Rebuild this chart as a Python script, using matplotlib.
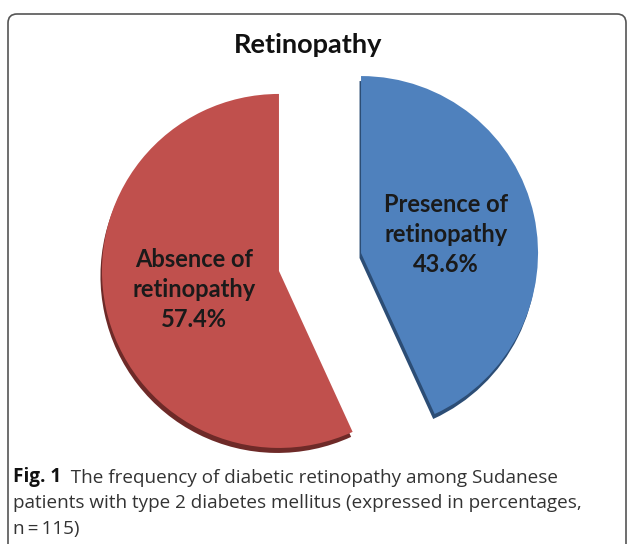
import matplotlib.pyplot as plt
from matplotlib.patches import FancyBboxPatch

# data
labels = ["Presence of\nretinopathy\n43.6%", "Absence of\nretinopathy\n57.4%"]
values = [43.6, 57.4]
colors = ["#4f81bd", "#c0504d"]
side_colors = ["#2c4d75", "#6e2a28"]
title = "Retinopathy"
caption_bold = "Fig. 1"
caption_lines = ["The frequency of diabetic retinopathy among Sudanese",
                 "patients with type 2 diabetes mellitus (expressed in percentages,",
                 "n\u2009=\u2009115)"]

W, H = 627, 544
fig = plt.figure(figsize=(W / 100, H / 100), dpi=100)
ax = fig.add_axes([0, 0, 1, 1])

# rounded frame
frame = FancyBboxPatch((8, -20), 618, H - 14 + 20,
                       boxstyle="round,pad=0,rounding_size=9",
                       fc="none", ec="#555555", lw=1.2)
ax.add_patch(frame)

cx, cy, r = 320, H - 262, 177
expl = (42, 42)  # explode is in data units here

# darker copy slightly lower gives the 3d side
ax.pie(values, colors=side_colors, startangle=90, counterclock=False,
       explode=expl, center=(cx - 1.5, cy - 5), radius=r, frame=True,
       wedgeprops=dict(linewidth=0))
ax.pie(values, colors=colors, labels=labels, labeldistance=0.49,
       startangle=90, counterclock=False, explode=expl,
       center=(cx, cy), radius=r, frame=True,
       wedgeprops=dict(linewidth=0),
       textprops=dict(ha="center", va="center", fontsize=17,
                      fontweight="bold", family="Lato", color="#1a1a1a",
                      linespacing=1.35))
ax.set_xlim(0, W)
ax.set_ylim(0, H)
ax.set_aspect("equal")
ax.axis("off")

ax.text(308, H - 45, title, ha="center", va="center", fontsize=19.5,
        fontweight="bold", family="Lato", color="#111111")

# caption
fs = 13.6
t = ax.text(13, H - 482, caption_bold, ha="left", va="baseline",
            fontsize=fs, fontweight="bold", family="Open Sans", color="#111111")
ax.annotate("  " + caption_lines[0], xy=(1, 0), xycoords=t, ha="left",
            va="bottom", fontsize=fs, family="Open Sans", color="#333333")
for i, line in enumerate(caption_lines[1:]):
    ax.text(13, H - 482 - 26 * (i + 1), line, ha="left", va="baseline",
            fontsize=fs, family="Open Sans", color="#333333")

fig.savefig("out.png", dpi=100)
